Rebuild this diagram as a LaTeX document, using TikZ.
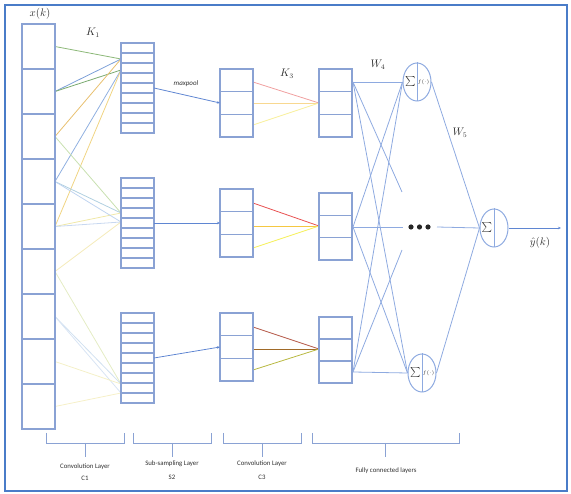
\documentclass[tikz,border=0pt]{standalone}
\usepackage{fontspec}
\setmainfont{Carlito}
\usetikzlibrary{shapes.geometric,arrows.meta,calc}
\definecolor{framec}{HTML}{4A7CC8}
\definecolor{boxc}{HTML}{8AA2D4}
\definecolor{fcc}{HTML}{8EAAE0}
\definecolor{arrc}{HTML}{5F86D2}
\definecolor{txt}{HTML}{303030}
\begin{document}
\begin{tikzpicture}[x=1pt,y=-1pt,
  frame/.style={draw=framec,line width=2.2pt},
  layerbox/.style={draw=boxc,line width=1.1pt,rectangle,inner sep=0pt,outer sep=0pt,minimum width=33pt},
  rowline/.style={draw=boxc,line width=1.1pt},
  wire/.style={line width=0.8pt},
  fcwire/.style={draw=fcc,line width=0.8pt},
  pool/.style={draw=arrc,line width=0.8pt,-{Stealth[length=3pt,width=2.5pt]}},
  neuron/.style={ellipse,draw=fcc,line width=1pt,minimum width=28pt,minimum height=38pt,inner sep=0pt},
  lbl/.style={text=txt,font=\fontsize{10.5}{11}\selectfont,inner sep=0pt},
  captext/.style={text=txt,font=\fontsize{6.8}{7}\selectfont,inner sep=0pt},
  bracket/.style={draw=boxc,line width=0.8pt}]
\useasboundingbox (0,0) rectangle (571,494);
\draw[frame] (5,5) rectangle (567,491);

% ports on the input column (cell centres on its right edge)
\foreach \k in {1,...,9}
  \coordinate (p\k) at (55,{24+45*\k-22.5});
% target points on the C1 maps
\coordinate (t1a) at (121,59);  \coordinate (t1b) at (121,70);
\coordinate (t2a) at (121,213); \coordinate (t2b) at (121,222);
\coordinate (t3a) at (121,384); \coordinate (t3b) at (121,393);

% kernel K1 connections
\draw[wire,color={rgb,255:red,140;green,184;blue,120}] (p1) -- (t1a);
\draw[wire,color={rgb,255:red,125;green,160;blue,216}] (p2) -- (t1a);
\draw[wire,color={rgb,255:red,122;green,170;blue,112}] (p2) -- (t1b);
\draw[wire,color={rgb,255:red,232;green,192;blue,112}] (p3) -- (t1a);
\draw[wire,color={rgb,255:red,144;green,176;blue,224}] (p4) -- (t1b);
\draw[wire,color={rgb,255:red,240;green,212;blue,130}] (p5) -- (t1b);

\draw[wire,color={rgb,255:red,200;green,224;blue,176}] (p3) -- (t2a);
\draw[wire,color={rgb,255:red,176;green,208;blue,224}] (p4) -- (t2a);
\draw[wire,color={rgb,255:red,240;green,232;blue,168}] (p5) -- (t2a);
\draw[wire,color={rgb,255:red,192;green,212;blue,240}] (p4) -- (t2b);
\draw[wire,color={rgb,255:red,200;green,216;blue,240}] (p5) -- (t2b);
\draw[wire,color={rgb,255:red,244;green,234;blue,184}] (p6) -- (t2b);

\draw[wire,color={rgb,255:red,228;green,236;blue,196}] (p6) -- (t3a);
\draw[wire,color={rgb,255:red,208;green,224;blue,240}] (p7) -- (t3a);
\draw[wire,color={rgb,255:red,216;green,228;blue,244}] (p7) -- (t3b);
\draw[wire,color={rgb,255:red,244;green,240;blue,200}] (p8) -- (t3a);
\draw[wire,color={rgb,255:red,246;green,240;blue,200}] (p9) -- (t3b);

% kernel K3 connections
\coordinate (u1) at (319,103); \coordinate (u2) at (319,226); \coordinate (u3) at (319,349);
\draw[wire,color={rgb,255:red,240;green,160;blue,160}] (253,82) -- (u1);
\draw[wire,color={rgb,255:red,248;green,216;blue,144}] (253,103) -- (u1);
\draw[wire,color={rgb,255:red,248;green,240;blue,160}] (253,125) -- (u1);
\draw[wire,color={rgb,255:red,232;green,80;blue,80}] (253,203) -- (u2);
\draw[wire,color={rgb,255:red,245;green,200;blue,66}] (253,226) -- (u2);
\draw[wire,color={rgb,255:red,245;green,240;blue,96}] (253,248) -- (u2);
\draw[wire,color={rgb,255:red,184;green,96;blue,80}] (253,327) -- (u3);
\draw[wire,color={rgb,255:red,160;green,106;blue,40}] (253,349) -- (u3);
\draw[wire,color={rgb,255:red,184;green,184;blue,64}] (253,370) -- (u3);

% feature maps: name / left x / top y / height / rows
\foreach \nm/\x/\y/\h/\r in {xin/22/24/405/9,
    c1a/121/43/90/9, c1b/121/178/90/9, c1c/121/313/90/9,
    s2a/220/69/68/3, s2b/220/189/68/3, s2c/220/313/68/3,
    c3a/319/69/68/3, c3b/319/193/67/3, c3c/319/317/66/3} {
  \node[layerbox,minimum height=\h pt] (\nm) at ({\x+16.5},{\y+\h/2}) {};
  \pgfmathtruncatemacro\rr{\r-1}
  \foreach \k in {1,...,\rr}
    \draw[rowline] (\x,{\y+\h*\k/\r}) -- ++(33,0);
}

% max pooling
\draw[pool] (c1a.east) -- (s2a.west);
\draw[pool] (c1b.east) -- (s2b.west);
\draw[pool] (c1c.east) -- (s2c.west);

% fully connected part
\node[neuron] (h1) at (417,82) {};
\node[neuron] (h2) at (422,373) {};
\node[neuron] (out) at (494,228) {};
\foreach \n in {h1,h2,out}
  \draw[draw=fcc,line width=1pt] (\n.north) -- (\n.south);
\node[text=txt,inner sep=0pt,font=\fontsize{9}{9}\selectfont] at ($(h1.center)+(-6.5,0)$) {$\sum$};
\node[text=txt,inner sep=0pt,font=\fontsize{5.5}{5.5}\selectfont] at ($(h1.center)+(6.5,0)$) {$f(\cdot)$};
\node[text=txt,inner sep=0pt,font=\fontsize{9}{9}\selectfont] at ($(h2.center)+(-6.5,0)$) {$\sum$};
\node[text=txt,inner sep=0pt,font=\fontsize{5.5}{5.5}\selectfont] at ($(h2.center)+(6.5,0)$) {$f(\cdot)$};
\node[text=txt,inner sep=0pt,font=\fontsize{9}{9}\selectfont] at ($(out.center)+(-7,0)$) {$\sum$};

\coordinate (o1) at (353,82);
\coordinate (o2) at (353,227);
\coordinate (o3) at (353,372);
\coordinate (st1) at (402,192);
\coordinate (st2) at (402,250);
\coordinate (dl) at (403,227);
\coordinate (dr) at (437,227);
\coordinate (yend) at (561,228);

\draw[fcwire] (o1) -- (h1.west);
\draw[fcwire] (o1) -- (st1);
\draw[fcwire] (o1) -- (h2.west);
\draw[fcwire] (o2) -- (h1.west);
\draw[fcwire] (o2) -- (dl);
\draw[fcwire] (o2) -- (h2.west);
\draw[fcwire] (o3) -- (h1.west);
\draw[fcwire] (o3) -- (st2);
\draw[fcwire] (o3) -- (h2.west);
\draw[fcwire] (dr) -- (out.west);
\draw[fcwire] (h1.east) -- (out.west);
\draw[fcwire] (h2.east) -- (out.west);
\draw[fcwire,draw=arrc,-{Stealth[length=3pt,width=2.5pt]}] (out.east) -- (yend);

% hidden units not drawn
\foreach \d in {411,419.5,428}
  \fill[black!85] (\d,227) circle (2.6pt);

% labels
\node[lbl] (lx) at (40,14) {$x(k)$};
\node[lbl] (lk1) at (93,33) {$K_1$};
\node[lbl] (lk3) at (287,74) {$K_3$};
\node[lbl] (lw4) at (378,65) {$W_4$};
\node[lbl] (lw5) at (460,133) {$W_5$};
\node[lbl] (ly) at (540,243) {$\hat{y}(k)$};
\node[text=txt,inner sep=0pt,font=\fontsize{7}{7}\selectfont\itshape] (lmp) at (186,84) {maxpool};

% layer brackets
\foreach \a/\b in {46/124, 133/211, 223/301, 312/459} {
  \draw[bracket] (\a,433) -- (\a,443) -- (\b,443) -- (\b,433);
  \draw[bracket] ({(\a+\b)/2},443) -- ({(\a+\b)/2},457);
}
\node[captext] (n1) at (85,467) {Convolution Layer};
\node[captext] (n1b) at (85,478) {C1};
\node[captext] (n2) at (172,464) {Sub-sampling Layer};
\node[captext] (n2b) at (172,477) {S2};
\node[captext] (n3) at (262,464) {Convolution Layer};
\node[captext] (n3b) at (262,477) {C3};
\node[captext] (n4) at (386,471) {Fully connected layers};
\end{tikzpicture}
\end{document}
